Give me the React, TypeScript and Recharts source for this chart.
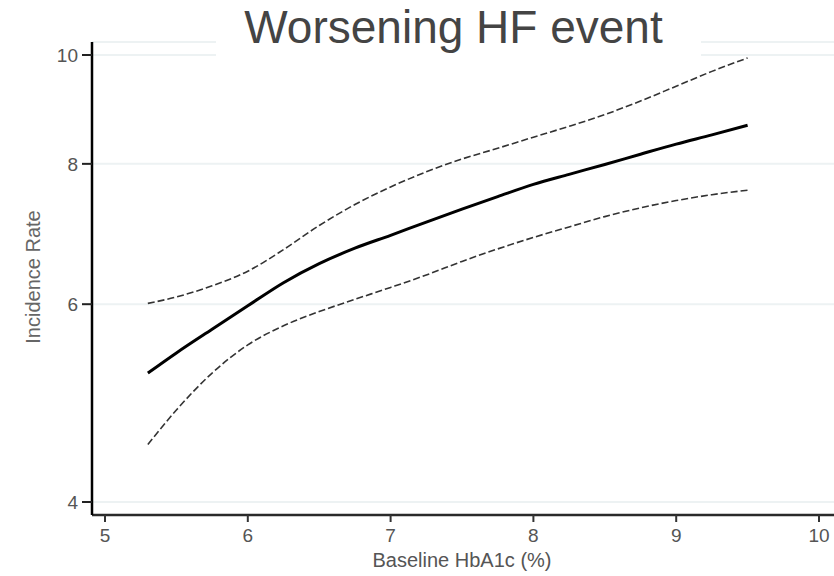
import React from "react";
import {
  LineChart,
  Line,
  XAxis,
  YAxis,
  CartesianGrid,
  Label,
} from "recharts";

// baseline HbA1c (%) sample points
const hba1c = [
  5.3, 5.5, 5.75, 6, 6.25, 6.5, 6.75, 7, 7.25, 7.5, 7.75, 8, 8.25, 8.5, 8.75,
  9, 9.25, 9.5,
];
// fitted incidence rate
const rate = [
  5.21, 5.43, 5.7, 5.98, 6.27, 6.52, 6.73, 6.91, 7.1, 7.29, 7.48, 7.67, 7.83,
  7.99, 8.16, 8.33, 8.49, 8.66,
];
// confidence band
const upper = [
  6.01, 6.09, 6.23, 6.42, 6.71, 7.05, 7.36, 7.63, 7.87, 8.08, 8.26, 8.45, 8.64,
  8.85, 9.1, 9.38, 9.67, 9.94,
];
const lower = [
  4.5, 4.83, 5.21, 5.52, 5.74, 5.91, 6.06, 6.21, 6.37, 6.55, 6.72, 6.88, 7.03,
  7.18, 7.31, 7.42, 7.51, 7.58,
];

const xTicks = [5, 6, 7, 8, 9, 10];
const yTicks = [4, 6, 8, 10];

const data = hba1c.map((x, i) => ({
  x,
  rate: rate[i],
  upper: upper[i],
  lower: lower[i],
}));

const FONT = "'Liberation Sans', Arial, Helvetica, sans-serif";

const App = () => {
  return (
    <div
      style={{
        position: "absolute",
        left: 0,
        top: 0,
        width: 834,
        height: 576,
        background: "#fff",
        fontFamily: FONT,
      }}
    >
      <LineChart
        width={834}
        height={576}
        data={data}
        margin={{ top: 42, right: 0, bottom: 0, left: 0 }}
      >
        <CartesianGrid
          vertical={false}
          stroke="#edf2f3"
          strokeWidth={2}
        />
        <XAxis
          dataKey="x"
          type="number"
          domain={[5, 10]}
          ticks={xTicks}
          padding={{ left: 13, right: 15 }}
          height={61}
          tickSize={7}
          tickMargin={7}
          axisLine={{ stroke: "#2a2a2a", strokeWidth: 2.5 }}
          tickLine={{ stroke: "#333", strokeWidth: 2 }}
          tick={{ fill: "#555", fontSize: 19, fontFamily: FONT }}
        >
          <Label
            content={() => (
              <text
                x={462}
                y={567}
                textAnchor="middle"
                fill="#555"
                fontSize={20}
                fontFamily={FONT}
              >
                Baseline HbA1c (%)
              </text>
            )}
          />
        </XAxis>
        <YAxis
          type="number"
          scale="log"
          domain={[4, 10]}
          ticks={yTicks}
          allowDataOverflow
          padding={{ top: 13, bottom: 13 }}
          width={92}
          tickSize={10}
          tickMargin={4}
          axisLine={{ stroke: "#000", strokeWidth: 2.5 }}
          tickLine={{ stroke: "#222", strokeWidth: 2 }}
          tick={{ fill: "#555", fontSize: 19, fontFamily: FONT }}
        >
          <Label
            content={() => (
              <text
                x={40}
                y={277}
                transform="rotate(-90 40 277)"
                textAnchor="middle"
                fill="#666"
                fontSize={20}
                fontFamily={FONT}
              >
                Incidence Rate
              </text>
            )}
          />
        </YAxis>
        <Line
          dataKey="upper"
          type="monotone"
          stroke="#333"
          strokeWidth={1.6}
          strokeDasharray="7 3"
          dot={false}
          isAnimationActive={false}
        />
        <Line
          dataKey="lower"
          type="monotone"
          stroke="#333"
          strokeWidth={1.6}
          strokeDasharray="7 3"
          dot={false}
          isAnimationActive={false}
        />
        <Line
          dataKey="rate"
          type="monotone"
          stroke="#000"
          strokeWidth={3}
          dot={false}
          isAnimationActive={false}
        />
      </LineChart>
      <div
        style={{
          position: "absolute",
          left: 216,
          top: 0,
          width: 485,
          height: 58,
          background: "#fff",
          color: "#444",
          fontSize: 46,
          lineHeight: "51px",
          paddingTop: 2,
          boxSizing: "border-box",
          paddingRight: 10,
          textAlign: "center",
          whiteSpace: "nowrap",
        }}
      >
        Worsening HF event
      </div>
    </div>
  );
};

export default App;
